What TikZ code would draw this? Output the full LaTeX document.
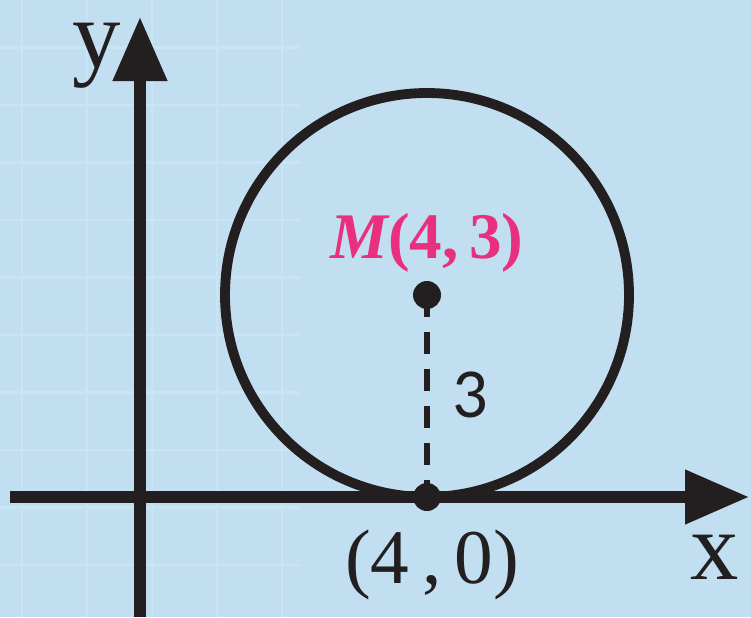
\documentclass[tikz,border=0pt]{standalone}
\usepackage{fontspec}
\setmainfont{Liberation Serif}
\newfontfamily\labelsans{Carlito}
\usepackage{tikz}
\usetikzlibrary{arrows.meta,positioning}
\definecolor{bgblue}{RGB}{193,223,240}
\definecolor{gridblue}{RGB}{201,228,243}
\definecolor{inkblack}{RGB}{35,31,32}
\definecolor{pinkM}{RGB}{232,48,126}

\begin{document}
\begin{tikzpicture}[
    >={Triangle[length=1.28cm, width=1.04cm]},
    axis/.style={draw=inkblack, line width=6.3pt},
    circ/.style={draw=inkblack, line width=5.6pt},
    radius line/.style={draw=inkblack, line width=3.6pt, dash pattern=on 0.44cm off 0.3cm},
    pt/.style={circle, fill=inkblack, inner sep=0pt, minimum size=0.56cm},
    axlabel/.style={text=inkblack, font=\fontsize{55}{60}\selectfont, inner sep=0pt},
    coordlabel/.style={text=inkblack, font=\fontsize{44}{50}\selectfont, inner sep=0pt},
    centerlabel/.style={text=pinkM, font=\fontsize{37}{42}\selectfont\bfseries, inner sep=0pt},
    lenlabel/.style={text=inkblack, font=\labelsans\fontsize{40}{44}\selectfont, inner sep=0pt}
]
% background and faint grid
\fill[bgblue] (0,0) rectangle (15.02,12.34);
\useasboundingbox (0,0) rectangle (15.02,12.34);
\foreach \gx in {0.44,1.74,3.04,4.34,5.64}
    \draw[gridblue, line width=1.5pt] (\gx,0) -- (\gx,12.34);
\foreach \gy in {1.04,2.19,3.34,4.49,5.64,6.79,7.94,9.09,10.24,11.39}
    \draw[gridblue, line width=1.5pt] (0,\gy) -- (6.0,\gy);

% axes
\coordinate (xstart) at (0.2,2.4);
\coordinate (xend) at (14.98,2.4);
\coordinate (ystart) at (2.8,0);
\coordinate (yend) at (2.8,12.0);
\draw[axis, ->] (xstart) -- (xend);
\draw[axis, ->] (ystart) -- (yend);
\node[axlabel] (ylab) at (1.94,11.22) {y};
\node[axlabel] (xlab) at (14.3,1.2) {x};

% circle and radius
\coordinate (M) at (8.54,6.44);
\draw[circ] (M) circle (4.04);
\node[pt] (center) at (M) {};
\node[pt] (touch) at (8.54,2.4) {};
\draw[radius line] (center.center) -- (touch.center);

\node[centerlabel] (mlab) at (8.54,7.48) {\itshape M\upshape(4,\,3)};
\node[lenlabel] (rlab) at (9.4,4.44) {3};
\node[coordlabel] (tlab) at (8.64,1.04) {(4\,,\,0)};
\end{tikzpicture}
\end{document}
